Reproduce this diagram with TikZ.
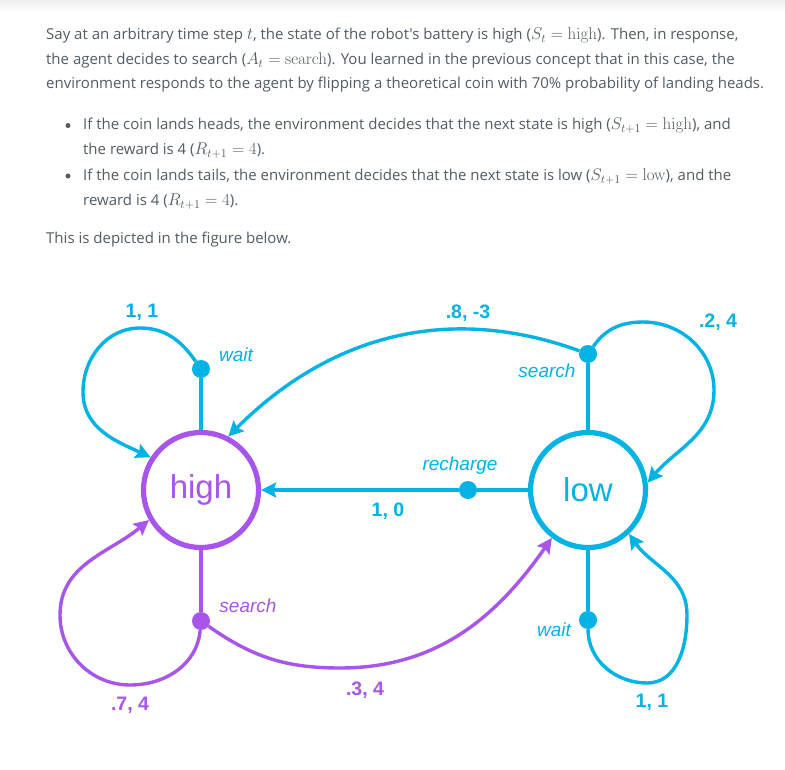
\RequirePackage{fix-cm}
\documentclass[tikz,border=0pt]{standalone}
\usepackage{amsmath}
\usepackage[no-math]{fontspec}
\setmainfont{Open Sans}[Ligatures=TeXOff]
\newfontfamily\figfont{Liberation Sans}
\usepackage{xcolor}
\usetikzlibrary{arrows.meta}
\definecolor{txt}{HTML}{525C65}
\definecolor{sky}{HTML}{02B3E4}
\definecolor{grape}{HTML}{A855EC}
\newcommand\mth[1]{{\fontsize{17}{18}\selectfont$#1$}}

\begin{document}
\begin{tikzpicture}[x=1pt,y=-1pt,
  state/.style={circle,line width=5.2pt,minimum size=115pt,inner sep=0pt,font=\figfont\fontsize{33}{33}\selectfont},
  act/.style={circle,inner sep=0pt,minimum size=18pt},
  link/.style={line width=3.4pt},
  arr/.style={-{Stealth[length=15pt,width=15pt,inset=2.5pt]}},
  prob/.style={font=\figfont\bfseries\fontsize{19.5}{20}\selectfont},
  actlabel/.style={font=\figfont\itshape\fontsize{19}{20}\selectfont},
  body/.style={anchor=base west,inner sep=0pt,text=txt,font=\fontsize{15}{18}\selectfont}]
\useasboundingbox (0,0) rectangle (785,770);
\fill[white] (0,0) rectangle (785,770);
\shade[top color=black!6,bottom color=white] (0,0) rectangle (785,12);

\node[body] (p1) at (46,40) {Say at an arbitrary time step \mth{t}, the state of the robot's battery is high (\mth{S_t = \mathrm{high}}). Then, in response,};
\node[body] (p2) at (46,64.5) {the agent decides to search (\mth{A_t = \mathrm{search}}). You learned in the previous concept that in this case, the};
\node[body] (p3) at (46,89) {environment responds to the agent by flipping a theoretical coin with 70\% probability of landing heads.};
\fill[txt] (68,125.5) circle (2.5);
\node[body] (b1) at (83,130) {If the coin lands heads, the environment decides that the next state is high (\mth{S_{t+1} = \mathrm{high}}), and};
\node[body] (b2) at (83,155) {the reward is 4 (\mth{R_{t+1} = 4}).};
\fill[txt] (68,176) circle (2.5);
\node[body] (b3) at (83,180.5) {If the coin lands tails, the environment decides that the next state is low (\mth{S_{t+1} = \mathrm{low}}), and the};
\node[body] (b4) at (83,205.5) {reward is 4 (\mth{R_{t+1} = 4}).};
\node[body] (p4) at (46,244) {This is depicted in the figure below.};

\node[state,draw=grape,text=grape] (high) at (201,490) {high};
\node[state,draw=sky,text=sky] (low) at (588,490) {low};
\node[act,fill=sky] (hw) at (201,369) {};
\node[act,fill=sky] (ls) at (588,354) {};
\node[act,fill=sky] (lr) at (468,490) {};
\node[act,fill=grape] (hs) at (201,621) {};
\node[act,fill=sky] (lw) at (588,620) {};

\draw[link,sky] (hw) -- (high);
\draw[link,sky,arr] (hw) to[out=125,in=0] (140,328) to[out=180,in=90] (83,392) to[out=-90,in=155] (high.147);
\draw[link,sky] (ls) -- (low);
\draw[link,sky,arr] (ls) to[out=160,in=45] (high.63);
\draw[link,sky,arr] (ls) to[out=55,in=180] (643,322) to[out=0,in=90] (714,390) to[out=-90,in=50] (low.7);
\draw[link,sky] (low) -- (lr);
\draw[link,sky,arr] (lr) -- (high);
\draw[link,grape] (high) -- (hs);
\draw[link,grape,arr] (hs) to[out=-95,in=0] (130,685) to[out=180,in=-90] (60,615) to[out=90,in=220] (high.210);
\draw[link,grape,arr] (hs) to[out=-35,in=180] (340,668) to[out=0,in=235] (low.233);
\draw[link,sky] (low) -- (lw);
\draw[link,sky,arr] (lw) to[out=-90,in=180] (647,683) to[out=0,in=-90] (687,615) to[out=90,in=-55] (low.-47);

\node[actlabel,text=sky] (hwl) at (236,355) {wait};
\node[prob,text=sky] (hwp) at (142,312) {1, 1};
\node[actlabel,text=sky] (lsl) at (547,371) {search};
\node[prob,text=sky] (lsp1) at (468,313) {.8, -3};
\node[prob,text=sky] (lsp2) at (718,322) {.2, 4};
\node[actlabel,text=sky] (lrl) at (460,466) {recharge};
\node[prob,text=sky] (lrp) at (388,511) {1, 0};
\node[actlabel,text=grape] (hsl) at (248,606) {search};
\node[prob,text=grape] (hsp1) at (130,705) {.7, 4};
\node[prob,text=grape] (hsp2) at (365,690) {.3, 4};
\node[actlabel,text=sky] (lwl) at (554,630) {wait};
\node[prob,text=sky] (lwp) at (652,702) {1, 1};
\end{tikzpicture}
\end{document}
